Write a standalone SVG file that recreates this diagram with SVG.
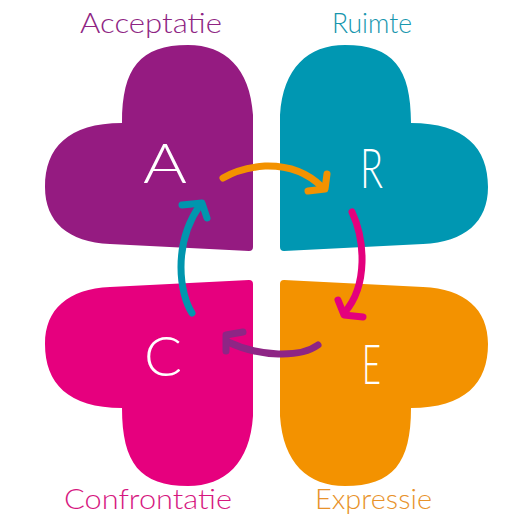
<svg xmlns="http://www.w3.org/2000/svg" width="520" height="517" viewBox="0 0 520 517">
<style>
.lbl{font-family:Lato,"Liberation Sans",sans-serif;font-weight:300;font-size:28px}
.big{font-family:Lato,"Liberation Sans",sans-serif;font-weight:300;font-size:56px;fill:#ffffff}
.arr{fill:none;stroke-width:7;stroke-linecap:round;stroke-linejoin:round}
</style>
<defs>
<path id="heart" d="M 253 247 L 253 115 C 250 68 225 45 188 45 C 140 45 122 68 122 123 C 68 123 45 148 45 187 C 45 222 68 242 110 244 L 249 251 Q 253 251 253 247 Z"/>
</defs>
<rect width="520" height="517" fill="#ffffff"/>
<g id="node-acceptatie">
<use href="#heart" fill="#951B81"/>
<text class="lbl" x="80" y="33" fill="#8E2483" textLength="142" lengthAdjust="spacingAndGlyphs">Acceptatie</text>
<text class="big" x="143" y="183" textLength="44" lengthAdjust="spacingAndGlyphs">A</text>
</g>
<g id="node-ruimte">
<use href="#heart" fill="#0097B2" transform="matrix(-1 0 0 1 533 0)"/>
<text class="lbl" x="332" y="33" fill="#1796AE" textLength="80" lengthAdjust="spacingAndGlyphs">Ruimte</text>
<text class="big" x="360" y="188" textLength="23" lengthAdjust="spacingAndGlyphs">R</text>
</g>
<g id="node-confrontatie">
<use href="#heart" fill="#E6007E" transform="matrix(1 0 0 -1 0 531)"/>
<text class="lbl" x="64" y="509" fill="#D6177F" textLength="168" lengthAdjust="spacingAndGlyphs">Confrontatie</text>
<text class="big" x="144" y="376" textLength="38" lengthAdjust="spacingAndGlyphs">C</text>
</g>
<g id="node-expressie">
<use href="#heart" fill="#F39200" transform="matrix(-1 0 0 -1 533 531)"/>
<text class="lbl" x="315" y="509" fill="#E8922A" textLength="117" lengthAdjust="spacingAndGlyphs">Expressie</text>
<text class="big" x="362" y="384" textLength="19" lengthAdjust="spacingAndGlyphs">E</text>
</g>
<g id="connectors">
<path class="arr" stroke="#F39200" d="M 223 178 Q 240 168 265 166 Q 300 165 322 187"/>
<path class="arr" stroke="#F39200" d="M 327 174 L 325 189 L 308 191"/>
<path class="arr" stroke="#0096AE" d="M 192 313 C 180 295 172 245 200 205"/>
<path class="arr" stroke="#0096AE" d="M 182 205 L 202 203 L 207 218"/>
<path class="arr" stroke="#E4007D" d="M 352 212 C 365 240 368 285 345 312"/>
<path class="arr" stroke="#E4007D" d="M 338 300 L 344 315 L 363 317"/>
<path class="arr" stroke="#8E2585" d="M 318 345 C 300 358 260 357 228 342"/>
<path class="arr" stroke="#8E2585" d="M 243 332 L 226 335 L 226 351"/>
</g>
</svg>
